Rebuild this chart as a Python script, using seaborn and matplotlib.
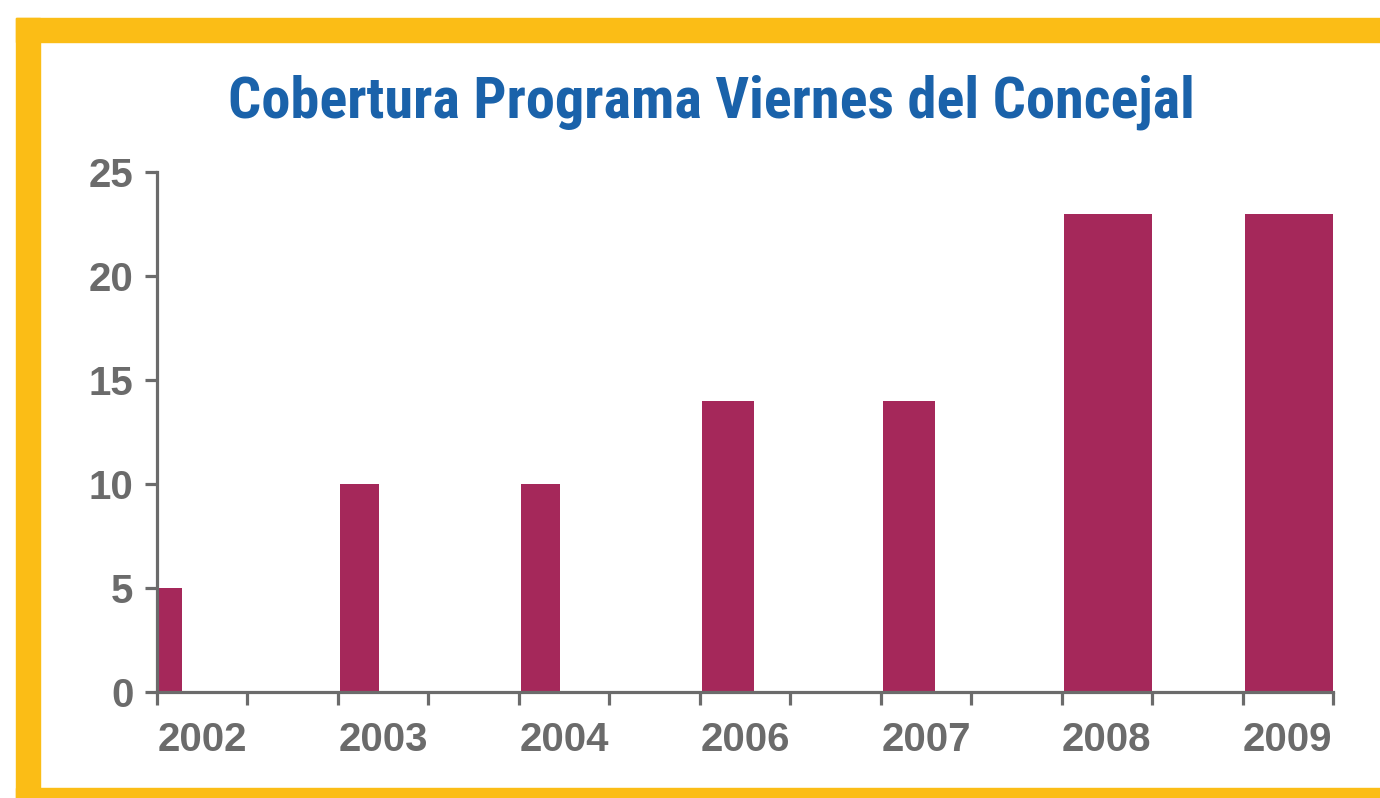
import matplotlib
matplotlib.use("Agg")
import matplotlib.pyplot as plt
import seaborn as sns
import pandas as pd
from matplotlib import font_manager
from matplotlib.patches import Rectangle

# ---- data ----
years = ["2002", "2003", "2004", "2006", "2007", "2008", "2009"]
values = [5, 10, 10, 14, 14, 23, 23]
y_ticks = [0, 5, 10, 15, 20, 25]
title = "Cobertura Programa Viernes del Concejal"

# ---- styles ----
bar_width_frac = [0.25, 0.43, 0.43, 0.58, 0.58, 0.98, 0.98]
BAR = "#a5285a"
TITLE_BLUE = "#1a62aa"
GRAY = "#6b6b6b"
YELLOW = "#fbbd16"

sns.set_theme(style="white")
names = {f.name for f in font_manager.fontManager.ttflist}


def pick(*cands):
    for c in cands:
        if c in names:
            return c
    return "DejaVu Sans"


base_font = pick("Liberation Sans", "Arial", "DejaVu Sans")
title_font = pick("Liberation Sans Narrow", "DejaVu Sans Condensed", "Roboto Condensed", "Liberation Sans")
plt.rcParams["font.family"] = [base_font, "DejaVu Sans"]

W, H = 1380, 798
fig = plt.figure(figsize=(W / 100, H / 100), dpi=100)
fig.patch.set_facecolor("white")


def px_rect(x0, y0, x1, y1):
    fig.patches.append(Rectangle((x0 / W, 1 - y1 / H), (x1 - x0) / W, (y1 - y0) / H,
                                 transform=fig.transFigure, color=YELLOW, zorder=0))


# yellow frame
px_rect(16, 18, W, 42)
px_rect(16, 18, 40, H)
px_rect(16, 788, W, H)

ax = fig.add_axes([157 / W, 1 - 692 / H, (1333 - 157) / W, (692 - 172) / H])
ax.set_facecolor("none")

df = pd.DataFrame({"year": years, "value": values})
sns.barplot(data=df, x="year", y="value", color=BAR, saturation=1, width=0.5,
            linewidth=0, ax=ax)

for patch, frac in zip(ax.patches, bar_width_frac):
    c = patch.get_x() + patch.get_width() / 2
    patch.set_x(c - 0.25 + 0.012)
    patch.set_width(0.5 * frac)

n = len(years)
edges = []
for i in range(n):
    edges += [i - 0.25, i + 0.25]
ax.set_xticks(edges, labels=[""] * len(edges))
ax.set_xticks(list(range(n)), labels=years, minor=True)
ax.set_xlim(-0.25, n - 1 + 0.25)
ax.set_ylim(0, 25)
ax.set_yticks(y_ticks, labels=[str(t) for t in y_ticks])
ax.set_xlabel("")
ax.set_ylabel("")

for s in ["top", "right"]:
    ax.spines[s].set_visible(False)
for s in ["left", "bottom"]:
    ax.spines[s].set_color(GRAY)
    ax.spines[s].set_linewidth(2.3)

ax.tick_params(axis="both", which="major", direction="out", length=9, width=2.3,
               color=GRAY, labelcolor=GRAY, labelsize=29, pad=8)
ax.tick_params(axis="y", which="major", left=True)
ax.tick_params(axis="x", which="major", bottom=True)
ax.tick_params(axis="x", which="minor", length=0, pad=21, labelcolor=GRAY,
               labelsize=29, bottom=True)
for lab in ax.get_yticklabels() + ax.get_xticklabels(minor=True):
    lab.set_fontweight("bold")

fig.text(711 / W, 1 - 117 / H, title, ha="center", va="baseline",
         fontsize=42, fontweight="bold", color=TITLE_BLUE,
         family=[title_font, "DejaVu Sans"])

fig.savefig("out.png", dpi=100, facecolor="white")
